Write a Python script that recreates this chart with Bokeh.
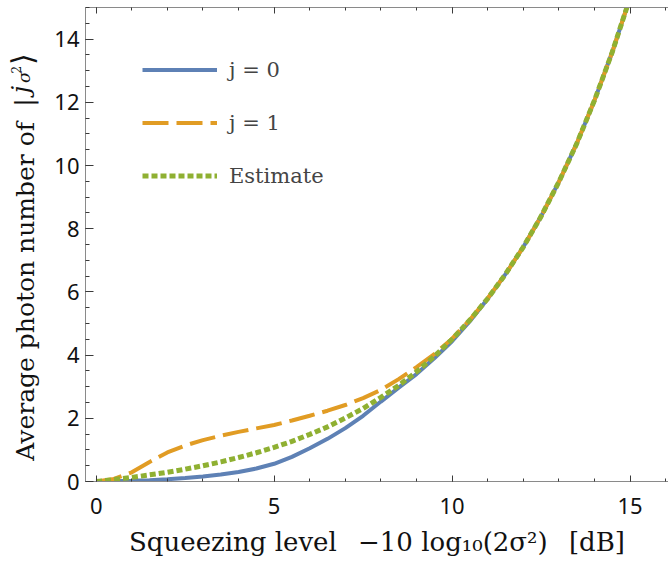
import math
from bokeh.plotting import figure
from bokeh.layouts import row
from bokeh.core.properties import value
from bokeh.models import (Range1d, LinearAxis, SingleIntervalTicker,
                          Legend, LegendItem, CustomJSTickFormatter)
from bokeh.embed import file_html
from bokeh.resources import INLINE

# ---------------- data ----------------
squeezing_db = [0, 0.5, 1, 1.5, 2, 2.5, 3, 3.5, 4, 4.5, 5, 5.5, 6, 6.5, 7, 7.5,
                8, 8.5, 9, 9.5, 10, 10.5, 11, 11.5, 12, 12.5, 13, 13.5, 14, 14.5, 15]
photons_j0 = [0, 0.005, 0.02, 0.04, 0.07, 0.11, 0.16, 0.22, 0.30, 0.41, 0.56, 0.78,
              1.05, 1.35, 1.69, 2.08, 2.53, 2.97, 3.40, 3.90, 4.44, 5.07, 5.78, 6.56,
              7.42, 8.39, 9.48, 10.69, 12.06, 13.59, 15.31]
photons_j1 = [0, 0.08, 0.29, 0.62, 0.92, 1.14, 1.31, 1.45, 1.57, 1.68, 1.79, 1.93,
              2.08, 2.24, 2.42, 2.64, 2.90, 3.24, 3.62, 4.03, 4.52, 5.12, 5.80, 6.56,
              7.42, 8.39, 9.48, 10.69, 12.06, 13.59, 15.31]
photons_estimate = [0, 0.06, 0.13, 0.21, 0.29, 0.39, 0.50, 0.62, 0.76, 0.91, 1.08, 1.27,
                    1.49, 1.73, 2.01, 2.31, 2.66, 3.04, 3.47, 3.96, 4.50, 5.11, 5.79, 6.56,
                    7.42, 8.39, 9.48, 10.69, 12.06, 13.59, 15.31]
series_labels = ["j = 0", "j = 1", "Estimate"]
x_label_text = "Squeezing level\u2002 \u221210 log\u2081\u2080(2\u03c3\u00b2)\u2002 [dB]"
y_label_main = "Average photon number of"

BLUE = "#5E81B5"
ORANGE = "#E19C24"
GREEN = "#8FB032"
SERIF = "DejaVu Serif"
SANS = "Noto Sans"
TXT = "#111111"

W_LAB = 45          # width of the strip that holds the vertical axis title
H = 561

# ---------------- main plot ----------------
p = figure(width=668 - W_LAB, height=H, output_backend="svg", toolbar_location=None,
           x_range=Range1d(-0.30, 16.08), y_range=Range1d(0, 15),
           min_border_left=85 - W_LAB, min_border_right=0, min_border_top=7,
           min_border_bottom=80)
p.xgrid.visible = False
p.ygrid.visible = False
p.outline_line_color = None

bottom = p.below[0]
left = p.left[0]
bottom.ticker = SingleIntervalTicker(interval=5, num_minor_ticks=5)
left.ticker = SingleIntervalTicker(interval=2, num_minor_ticks=4)

top = LinearAxis(ticker=SingleIntervalTicker(interval=5, num_minor_ticks=5),
                 formatter=CustomJSTickFormatter(code="return ''"),
                 major_label_text_font_size="1px", major_label_standoff=0)
p.add_layout(top, "above")

for ax in [bottom, left, top]:
    ax.axis_line_color = "#8a8a8a"
    ax.axis_line_width = 1
    ax.major_tick_line_color = "#3a3a3a"
    ax.minor_tick_line_color = "#3a3a3a"
    ax.major_tick_out = 0
    ax.minor_tick_out = 0
for ax in [bottom, top]:
    ax.major_tick_in = 6
    ax.minor_tick_in = 3
left.major_tick_in = 8
left.minor_tick_in = 4
for ax in [bottom, left]:
    ax.major_label_text_font = SANS
    ax.major_label_text_font_size = "22px"
    ax.major_label_text_color = TXT
bottom.major_label_standoff = 16
left.major_label_standoff = 6

bottom.axis_label = x_label_text
bottom.axis_label_text_font = SERIF
bottom.axis_label_text_font_size = "26px"
bottom.axis_label_text_font_style = "normal"
bottom.axis_label_text_color = TXT
bottom.axis_label_standoff = 10

r0 = p.line(squeezing_db, photons_j0, line_color=BLUE, line_width=4)
r1 = p.line(squeezing_db, photons_j1, line_color=ORANGE, line_width=4, line_dash="26 8")
r2 = p.line(squeezing_db, photons_estimate, line_color=GREEN, line_width=5, line_dash="6 3")

legend = Legend(items=[LegendItem(label=series_labels[0], renderers=[r0]),
                       LegendItem(label=series_labels[1], renderers=[r1]),
                       LegendItem(label=series_labels[2], renderers=[r2])],
                location=(57, 293))
legend.glyph_width = 75
legend.glyph_height = 25
legend.label_height = 25
legend.spacing = 28
legend.padding = 0
legend.margin = 0
legend.border_line_color = None
legend.background_fill_alpha = 0
legend.label_text_font = SERIF
legend.label_text_font_size = "21px"
legend.label_standoff = 12
p.add_layout(legend)

# ---------------- strip with the vertical axis title ----------------
t = figure(width=W_LAB, height=H, output_backend="svg", toolbar_location=None,
           x_range=Range1d(0, W_LAB), y_range=Range1d(0, H),
           x_axis_location=None, y_axis_location=None, title=None,
           min_border=0, min_border_left=0, min_border_right=0,
           min_border_top=0, min_border_bottom=0)
t.xgrid.visible = False
t.ygrid.visible = False
t.outline_line_color = None

rot = math.pi / 2
def ylab(text, cx, cy, size, style="normal"):
    # (cx, cy): anchor of the piece in page pixels, measured from top-left
    t.text(x=[cx], y=[H - cy], text=[text], angle=rot,
           text_font=value(SERIF), text_font_size=value(size),
           text_font_style=style, text_align="center",
           text_baseline="middle", text_color=TXT)

ylab(y_label_main, 25, 336, "25px")
ylab("|", 23, 112.5, "24px")
ylab("j", 20, 97, "24px", style="italic")
ylab("\u03c3", 23, 82.5, "17px", style="italic")
ylab("2", 15.5, 73.5, "12px")
ylab("\u27e9", 21.5, 61, "30px")

layout = row(t, p, spacing=0)
open("out.html", "w").write(file_html(layout, INLINE))
